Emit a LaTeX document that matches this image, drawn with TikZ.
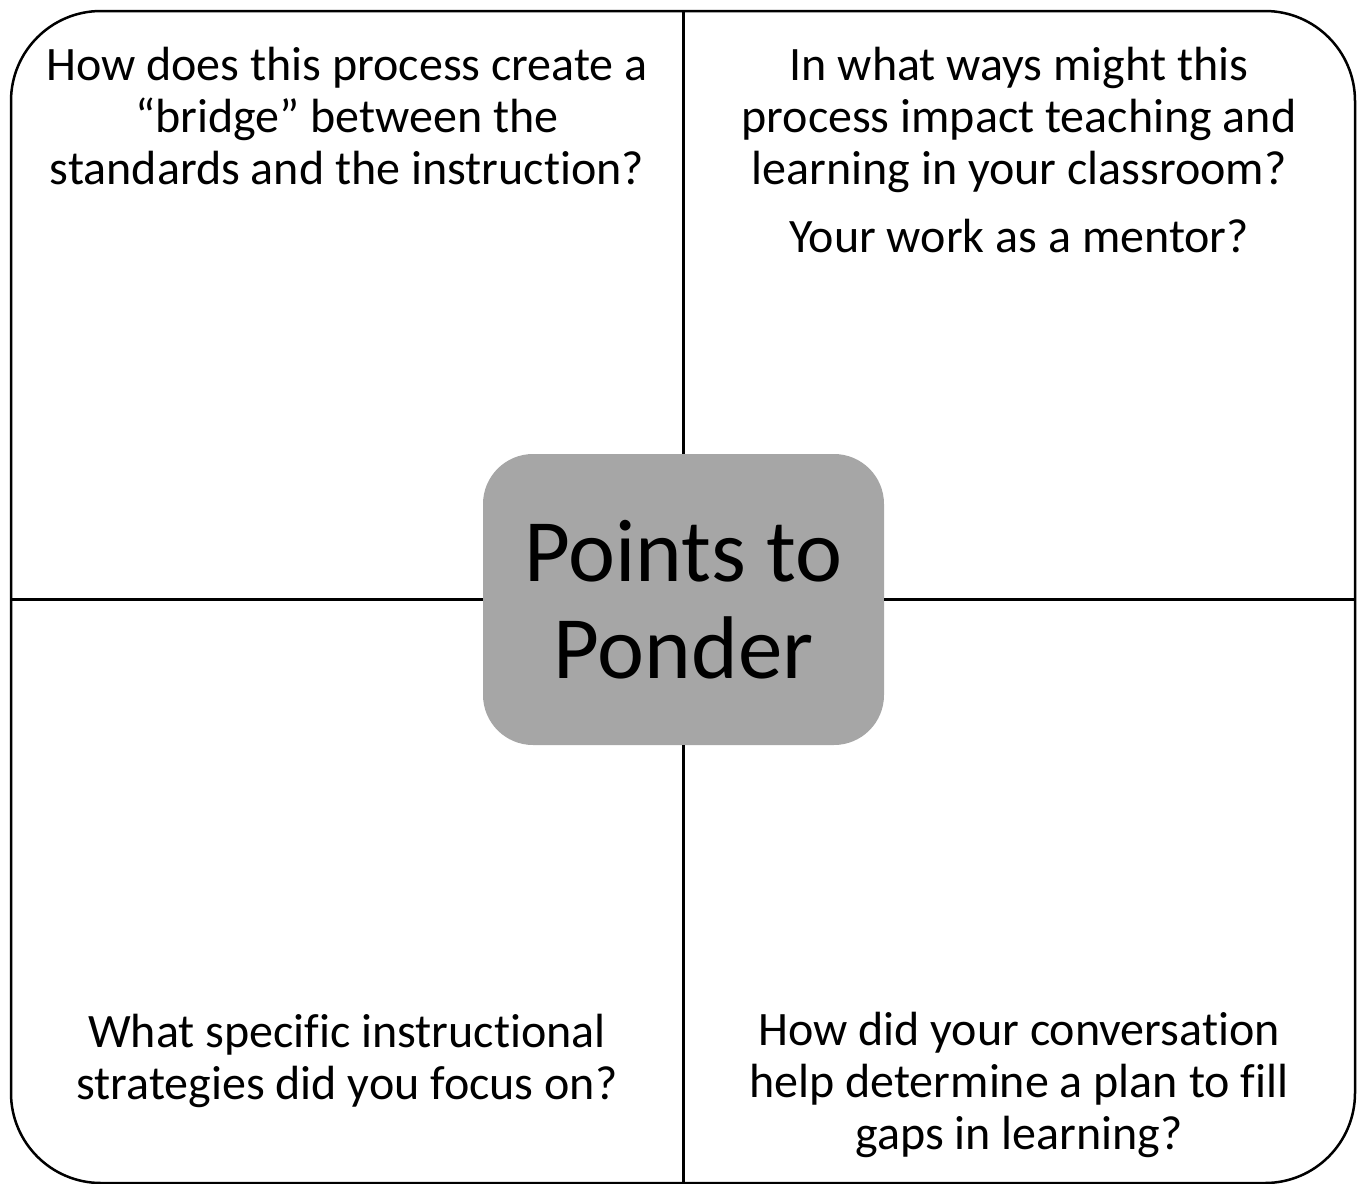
\documentclass[tikz,border=0pt]{standalone}
\usepackage{fontspec}
\setmainfont{Carlito}[Ligatures={TeX,NoCommon}]
\tikzset{
  frame/.style={line width=2.5pt, rounded corners=90pt},
  divider/.style={line width=2.5pt},
  ponderbox/.style={fill=ponder gray, rounded corners=50pt, minimum width=401pt,
    minimum height=291pt, inner sep=0pt, align=center,
    font=\fontsize{89}{97}\selectfont},
  question/.style={align=center, inner sep=0pt, anchor=base,
    font=\fontsize{48}{52}\selectfont}
}
\definecolor{ponder gray}{HTML}{A6A6A6}
\begin{document}
\begin{tikzpicture}[x=1pt, y=-1pt]
\useasboundingbox (0,0) rectangle (1361,1184);
% outer frame
\draw[frame] (11,11) rectangle (1355,1183);
\coordinate (top) at (683.5,11);
\coordinate (bottom) at (683.5,1183);
\coordinate (left) at (11,599.5);
\coordinate (right) at (1355,599.5);
% the box in the middle
\node[ponderbox] (ponder) at (683.5,599.5) {Points to\\Ponder};
% lines between the four quadrants
\draw[divider] (top) -- (ponder.north);
\draw[divider] (ponder.south) -- (bottom);
\draw[divider] (left) -- (ponder.west);
\draw[divider] (ponder.east) -- (right);
% questions (placed by the baseline of their last line)
\node[question] (q1) at (347,184) {How does this process create a\\“bridge” between the\\standards and the instruction?};
\node[question] (q2) at (1019,252) {In what ways might this\\process impact teaching and\\learning in your classroom?\\[16pt]Your work as a mentor?};
\node[question] (q3) at (347,1099) {What specific instructional\\strategies did you focus on?};
\node[question] (q4) at (1019,1149) {How did your conversation\\help determine a plan to fill\\gaps in learning?};
\end{tikzpicture}
\end{document}
